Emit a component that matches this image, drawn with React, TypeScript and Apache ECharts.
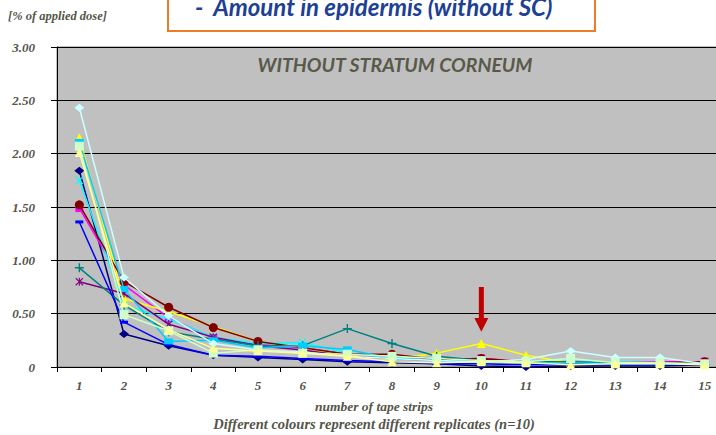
import React, { useEffect, useRef } from "react";
import * as echarts from "echarts";

const categories = ["1", "2", "3", "4", "5", "6", "7", "8", "9", "10", "11", "12", "13", "14", "15"];
const yTicks = [0, 0.5, 1, 1.5, 2, 2.5, 3];

const rep1 = [1.84, 0.31, 0.2, 0.11, 0.09, 0.07, 0.05, 0.04, 0.03, 0.01, 0.0, 0.01, 0.01, 0.01, 0.02];
const rep2 = [1.49, 0.77, 0.46, 0.27, 0.21, 0.18, 0.12, 0.09, 0.07, 0.08, 0.05, 0.04, 0.04, 0.05, 0.05];
const rep3 = [2.15, 0.64, 0.52, 0.38, 0.24, 0.18, 0.11, 0.07, 0.13, 0.22, 0.11, 0.04, 0.03, 0.03, 0.03];
const rep4 = [1.75, 0.58, 0.45, 0.28, 0.22, 0.23, 0.13, 0.09, 0.06, 0.05, 0.05, 0.05, 0.05, 0.04, 0.03];
const rep5 = [0.8, 0.69, 0.4, 0.28, 0.2, 0.16, 0.1, 0.08, 0.06, 0.07, 0.05, 0.04, 0.03, 0.04, 0.04];
const rep6 = [1.52, 0.8, 0.56, 0.37, 0.24, 0.18, 0.12, 0.12, 0.07, 0.08, 0.05, 0.04, 0.03, 0.04, 0.05];
const rep7 = [0.93, 0.58, 0.33, 0.26, 0.2, 0.2, 0.36, 0.22, 0.1, 0.06, 0.05, 0.05, 0.04, 0.04, 0.03];
const rep8 = [1.36, 0.42, 0.21, 0.11, 0.1, 0.08, 0.06, 0.05, 0.03, 0.03, 0.02, 0.02, 0.02, 0.02, 0.02];
const rep9 = [2.11, 0.73, 0.24, 0.25, 0.18, 0.2, 0.165, 0.08, 0.06, 0.05, 0.04, 0.04, 0.03, 0.03, 0.03];
const rep10 = [2.43, 0.84, 0.48, 0.22, 0.16, 0.14, 0.1, 0.08, 0.06, 0.05, 0.07, 0.15, 0.09, 0.09, 0.03];
const rep11 = [2.07, 0.49, 0.34, 0.13, 0.16, 0.13, 0.12, 0.1, 0.08, 0.06, 0.05, 0.08, 0.04, 0.04, 0.03];
const rep12 = [2.01, 0.6, 0.35, 0.175, 0.15, 0.13, 0.1, 0.05, 0.04, 0.05, 0.04, 0.02, 0.03, 0.03, 0.02];

const X_PATH = "path://M1,0 L5,4 L9,0 L10,1 L6,5 L10,9 L9,10 L5,6 L1,10 L0,9 L4,5 L0,1 Z";
const STAR_PATH =
  "path://M1,0 L4.3,3.3 L4.3,0 L5.7,0 L5.7,3.3 L9,0 L10,1 L6,5 L10,9 L9,10 L5.7,6.7 L5.7,10 L4.3,10 L4.3,6.7 L1,10 L0,9 L4,5 L0,1 Z";
const PLUS_PATH = "path://M4.2,0 H5.8 V4.2 H10 V5.8 H5.8 V10 H4.2 V5.8 H0 V4.2 H4.2 Z";

const SERIF = '"Liberation Serif", "Times New Roman", serif';
const SANS = 'Lato, "Open Sans", sans-serif';
const TEXT_COL = "#55554a";

const seriesDefs = [
  { data: rep1, color: "#000080", symbol: "diamond", size: [10, 8] },
  { data: rep2, color: "#ff00ff", symbol: "rect", size: 8 },
  { data: rep3, color: "#ffff00", symbol: "triangle", size: 9 },
  { data: rep4, color: "#00ffff", symbol: X_PATH, size: 8 },
  { data: rep5, color: "#800080", symbol: STAR_PATH, size: 8 },
  { data: rep6, color: "#800000", symbol: "circle", size: 9 },
  { data: rep7, color: "#008080", symbol: PLUS_PATH, size: 9 },
  { data: rep8, color: "#0000ff", symbol: "rect", size: [8, 3] },
  { data: rep9, color: "#00ccff", symbol: "rect", size: [9, 6] },
  { data: rep10, color: "#ccffff", symbol: "diamond", size: [10, 8] },
  { data: rep11, color: "#ccffcc", symbol: "rect", size: 9 },
  { data: rep12, color: "#ffff99", symbol: "triangle", size: 9 },
];

export default function App() {
  const ref = useRef<HTMLDivElement>(null);
  useEffect(() => {
    if (!ref.current) return;
    const chart = echarts.init(ref.current, null, { renderer: "svg" });
    const baseGraphic: any[] = [
      {
        type: "text",
        left: 8,
        top: 9,
        style: { text: "[% of applied dose]", font: `italic bold 12.5px ${SERIF}`, fill: TEXT_COL },
      },
      {
        type: "rect",
        shape: { x: 168, y: -10, width: 427, height: 41 },
        style: { fill: "#ffffff", stroke: "#f07c28", lineWidth: 2 },
      },
      {
        type: "text",
        x: 195,
        y: 6,
        style: {
          text: "-  Amount in epidermis (without SC)",
          font: `italic bold 24px ${SANS}`,
          fill: "#1d3f95",
          textVerticalAlign: "middle",
        },
      },
      {
        type: "text",
        x: 395,
        y: 64,
        z: 10,
        style: {
          text: "WITHOUT STRATUM CORNEUM",
          font: `italic bold 19.5px ${SANS}`,
          fill: "#59594a",
          textAlign: "center",
          textVerticalAlign: "middle",
        },
      },
      {
        type: "text",
        x: 374,
        y: 406,
        style: {
          text: "number of tape strips",
          font: `italic bold 13.5px ${SERIF}`,
          fill: TEXT_COL,
          textAlign: "center",
          textVerticalAlign: "middle",
        },
      },
      {
        type: "text",
        x: 374,
        y: 424,
        style: {
          text: "Different colours represent different replicates (n=10)",
          font: `italic bold 14.5px ${SERIF}`,
          fill: TEXT_COL,
          textAlign: "center",
          textVerticalAlign: "middle",
        },
      },
    ];
    chart.setOption({
      animation: false,
      backgroundColor: "#ffffff",
      grid: {
        left: 57,
        top: 47,
        width: 670,
        height: 320,
        show: true,
        backgroundColor: "#c0c0c0",
        borderColor: "#808080",
        borderWidth: 1,
      },
      xAxis: {
        type: "category",
        data: categories,
        boundaryGap: true,
        axisLine: { show: true, lineStyle: { color: "#000000", width: 1 } },
        axisTick: { show: true, length: 5, lineStyle: { color: "#000000" } },
        axisLabel: {
          margin: 12,
          fontFamily: SERIF,
          fontStyle: "italic",
          fontWeight: "bold",
          fontSize: 13,
          color: TEXT_COL,
        },
        splitLine: { show: false },
      },
      yAxis: {
        type: "value",
        min: yTicks[0],
        max: yTicks[yTicks.length - 1],
        interval: 0.5,
        axisLine: { show: true, lineStyle: { color: "#000000", width: 1 } },
        axisTick: { show: true, length: 6, lineStyle: { color: "#000000" } },
        axisLabel: {
          margin: 22,
          fontFamily: SERIF,
          fontStyle: "italic",
          fontWeight: "bold",
          fontSize: 13,
          color: TEXT_COL,
          formatter: (v: number) => (v === 0 ? "0" : v.toFixed(2)),
        },
        splitLine: { show: true, lineStyle: { color: "#000000", width: 1 } },
      },
      series: seriesDefs.map((s, i) => ({
        type: "line",
        name: `Replicate ${i + 1}`,
        data: s.data,
        symbol: s.symbol,
        symbolSize: s.size,
        showAllSymbol: true,
        z: 2 + i * 0.01,
        lineStyle: { color: s.color, width: 1.5 },
        itemStyle: { color: s.color, borderWidth: 0 },
      })),
      graphic: baseGraphic,
    });

    const top = chart.convertToPixel({ gridIndex: 0 }, [9, 0.75]) as number[];
    const headStart = chart.convertToPixel({ gridIndex: 0 }, [9, 0.46]) as number[];
    const tip = chart.convertToPixel({ gridIndex: 0 }, [9, 0.33]) as number[];
    const cx = tip[0];
    chart.setOption({
      graphic: [
        ...baseGraphic,
        {
          type: "polygon",
          z: 20,
          shape: {
            points: [
              [cx - 2.5, top[1]],
              [cx + 2.5, top[1]],
              [cx + 2.5, headStart[1]],
              [cx + 7, headStart[1]],
              [cx, tip[1]],
              [cx - 7, headStart[1]],
              [cx - 2.5, headStart[1]],
            ],
          },
          style: { fill: "#c00000" },
        },
      ],
    });

    return () => chart.dispose();
  }, []);
  return (
    <div
      style={{
        position: "absolute",
        left: 0,
        top: 0,
        width: 716,
        height: 435,
        overflow: "hidden",
        background: "#fff",
      }}
    >
      <div ref={ref} style={{ width: 740, height: 435 }} />
    </div>
  );
}
